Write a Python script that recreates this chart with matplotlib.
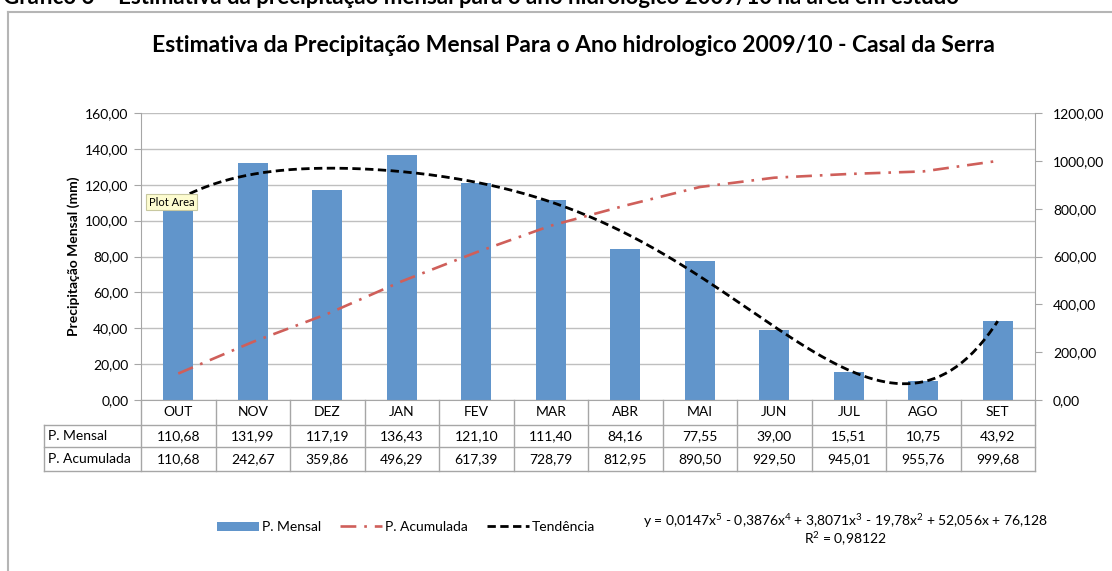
import numpy as np
import matplotlib
matplotlib.use("Agg")
import matplotlib.pyplot as plt
from matplotlib.lines import Line2D
from matplotlib.patches import Patch

plt.rcParams['font.family'] = ['Lato', 'DejaVu Sans']
plt.rcParams['mathtext.fontset'] = 'custom'
plt.rcParams['mathtext.rm'] = 'Lato'
plt.rcParams['mathtext.it'] = 'Lato:italic'

# ---------------- data ----------------
meses = ["OUT", "NOV", "DEZ", "JAN", "FEV", "MAR", "ABR", "MAI", "JUN", "JUL", "AGO", "SET"]
p_mensal = [110.68, 131.99, 117.19, 136.43, 121.10, 111.40, 84.16, 77.55, 39.00, 15.51, 10.75, 43.92]
p_acumulada = [110.68, 242.67, 359.86, 496.29, 617.39, 728.79, 812.95, 890.50, 929.50, 945.01, 955.76, 999.68]
row_labels = ["P. Mensal", "P. Acumulada"]
titulo = "Estimativa da Precipitação Mensal Para o Ano hidrologico 2009/10 - Casal da Serra"
legenda = ["P. Mensal", "P. Acumulada", "Tendência"]
equacao = ("y = 0,0147x$^\\mathregular{5}$ - 0,3876x$^\\mathregular{4}$ + 3,8071x$^\\mathregular{3}$"
           " - 19,78x$^\\mathregular{2}$ + 52,056x + 76,128")
r2 = "R$^\\mathregular{2}$ = 0,98122"

W, H = 1112, 571
fig = plt.figure(figsize=(W / 100, H / 100), dpi=100)

def fx(px):
    return px / W

def fy(py):
    return 1 - py / H

BAR = '#6195cb'
RED = '#cf5f5a'
GRID = '#bfbfbf'
AX = '#a6a6a6'

# plot area in pixels
L, R, T, B = 141, 1035, 113, 400
ax = fig.add_axes([fx(L), fy(B), fx(R - L), (B - T) / H])
x = np.arange(1, len(meses) + 1)

ax.bar(x, p_mensal, width=0.4, color=BAR, zorder=2)
coef = np.polyfit(x, p_mensal, 5)
xs = np.linspace(1, 12, 300)
ax.plot(xs, np.polyval(coef, xs), color='black', lw=2.0, dashes=(3, 1.6), zorder=3)

ax.set_xlim(0.5, 12.5)
ax.set_ylim(0, 160)
ax.set_yticks(np.arange(0, 161, 20))
ax.set_yticklabels([f"{v:.2f}".replace('.', ',') for v in np.arange(0, 161, 20)], fontsize=10)
ax.set_xticks([])
ax.yaxis.grid(True, color=GRID, lw=1)
ax.set_axisbelow(True)
for s in ['top', 'right']:
    ax.spines[s].set_visible(False)
for s in ['left', 'bottom']:
    ax.spines[s].set_color(AX)
ax.tick_params(axis='y', length=5, color=AX, pad=4)
ax.set_ylabel("Precipitação Mensal (mm)", fontsize=10, fontweight='bold', labelpad=4)

ax2 = ax.twinx()
ax2.plot(x, p_acumulada, color=RED, lw=1.9, dashes=(6, 3, 1, 3), zorder=4)
ax2.set_ylim(0, 1200)
ax2.set_yticks(np.arange(0, 1201, 200))
ax2.set_yticklabels([f"{v:.2f}".replace('.', ',') for v in np.arange(0, 1201, 200)], fontsize=10)
ax2.tick_params(axis='y', length=5, color=AX, pad=8)
for s in ['top', 'left', 'bottom']:
    ax2.spines[s].set_visible(False)
ax2.spines['right'].set_color(AX)
ax2.set_ylabel("Precipitação Acumulada (mm)", fontsize=10, fontweight='bold', labelpad=14)

# ---------------- table ----------------
TCOL = '#a6a6a6'
colw = (R - L) / len(meses)
rows_y = [400, 425, 447, 471]
for i in range(len(meses) + 1):
    xp = L + i * colw
    fig.add_artist(Line2D([fx(xp), fx(xp)], [fy(400), fy(471)], color=TCOL, lw=1))
fig.add_artist(Line2D([fx(44), fx(44)], [fy(425), fy(471)], color=TCOL, lw=1))
for yp in rows_y[1:]:
    fig.add_artist(Line2D([fx(44), fx(R)], [fy(yp), fy(yp)], color=TCOL, lw=1))
for i, m in enumerate(meses):
    cx = L + (i + 0.5) * colw
    fig.text(fx(cx), fy(412.5), m, ha='center', va='center', fontsize=10)
    fig.text(fx(cx), fy(436), f"{p_mensal[i]:.2f}".replace('.', ','), ha='center', va='center', fontsize=10)
    fig.text(fx(cx), fy(459), f"{p_acumulada[i]:.2f}".replace('.', ','), ha='center', va='center', fontsize=10)
fig.text(fx(48), fy(436), row_labels[0], ha='left', va='center', fontsize=10)
fig.text(fx(48), fy(459), row_labels[1], ha='left', va='center', fontsize=10)

# ---------------- title & frame ----------------
fig.text(fx(573), fy(45), titulo, ha='center', va='center', fontsize=16.5, fontweight='bold')
fig.text(fx(3), fy(4), "Gráfico 6 – Estimativa da precipitação mensal para o ano hidrológico 2009/10 na área em estudo",
         ha='left', va='baseline', fontsize=16, fontweight='bold')
fig.add_artist(Line2D([fx(8), fx(8)], [fy(12), 0], color='#b5b5b5', lw=1.5))
fig.add_artist(Line2D([fx(8), 1], [fy(12), fy(12)], color='#b5b5b5', lw=1.5))

# ---------------- legend ----------------
handles = [Patch(facecolor=BAR, edgecolor='none'),
           Line2D([], [], color=RED, lw=1.9, dashes=(6, 3, 1, 3)),
           Line2D([], [], color='black', lw=2.0, dashes=(3, 1.6))]
fig.legend(handles, legenda, loc='center', bbox_to_anchor=(fx(406), fy(527)), ncol=3,
           frameon=False, fontsize=10, handlelength=3.0, handleheight=0.6,
           handletextpad=0.2, columnspacing=1.4)
fig.text(fx(845), fy(521), equacao, ha='center', va='center', fontsize=10)
fig.text(fx(845), fy(539), r2, ha='center', va='center', fontsize=10)

# tooltip
fig.text(fx(149), fy(202), "Plot Area", ha='left', va='center', fontsize=8,
         bbox=dict(boxstyle='square,pad=0.25', facecolor='#fdfcd0', edgecolor='#c8c8a0', lw=0.8))

fig.savefig("out.png", dpi=100)
